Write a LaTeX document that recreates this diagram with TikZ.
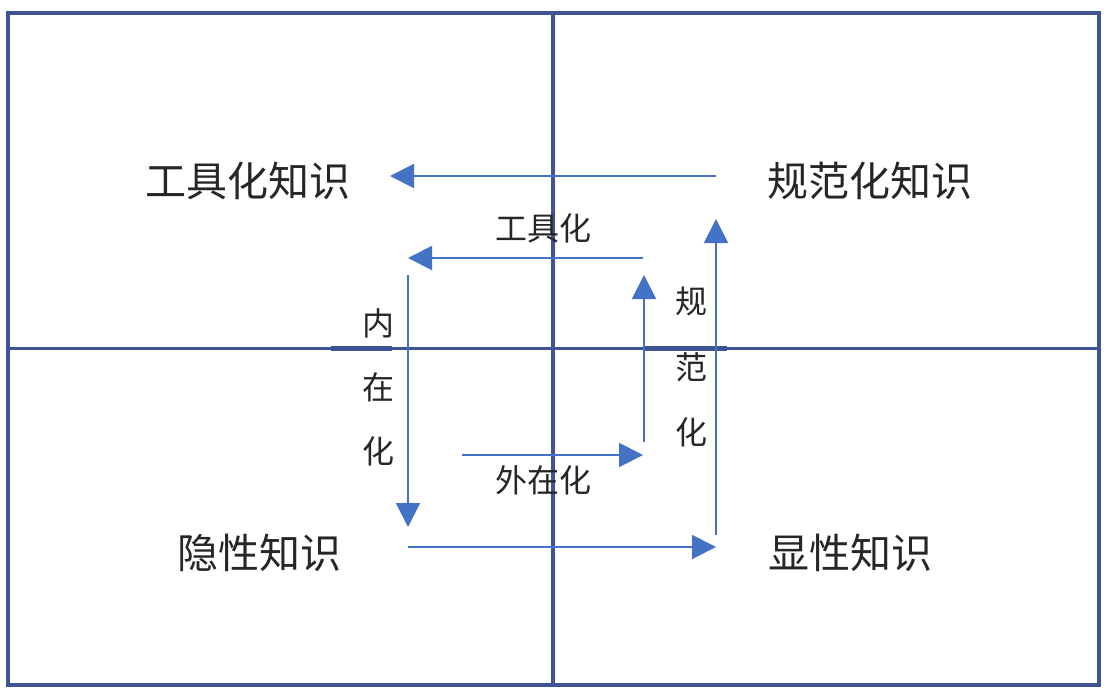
\documentclass[tikz,border=0pt]{standalone}
\usepackage{fontspec}
\setmainfont{Noto Sans CJK SC}
\usetikzlibrary{arrows.meta}
\definecolor{frameblue}{HTML}{3F5494}
\definecolor{arrowblue}{HTML}{4472C4}
\definecolor{txt}{HTML}{262626}
\tikzset{
  frame/.style={draw=frameblue,line width=4pt},
  flow/.style={draw=arrowblue,line width=2pt,-{Triangle[length=24pt,width=24pt]}},
  big/.style={text=txt,font=\fontsize{41}{45}\selectfont,inner sep=0pt},
  small/.style={text=txt,font=\fontsize{32}{36}\selectfont,inner sep=0pt},
}
\begin{document}
\begin{tikzpicture}[x=1pt,y=-1pt]
\useasboundingbox (0,0) rectangle (1114,699);
\fill[white] (0,0) rectangle (1114,699);
% frame
\draw[frame] (8,13) rectangle (1099,685);
\draw[frameblue,line width=3pt] (8,348) -- (1099,348);
\draw[frameblue,line width=5pt] (331,348) -- (392,348);
\draw[frameblue,line width=5pt] (645,348) -- (727,348);
\draw[frame] (553,13) -- (553,685);
% labels
\node[big] (tool) at (248,181) {工具化知识};
\node[big] (norm) at (870,181) {规范化知识};
\node[big] (tacit) at (259,553) {隐性知识};
\node[big] (expl) at (850,553) {显性知识};
\node[small] (ltool) at (543,228) {工具化};
\node[small] (lext) at (543,480) {外在化};
\node[small] (i1) at (378,323) {内};
\node[small] (i2) at (378,387) {在};
\node[small] (i3) at (378,451) {化};
\node[small] (n1) at (691,301) {规};
\node[small] (n2) at (691,367) {范};
\node[small] (n3) at (691,432) {化};
% arrow endpoints
\coordinate (a1s) at (716,176); \coordinate (a1e) at (390,176);
\coordinate (a2s) at (643,258); \coordinate (a2e) at (408,258);
\coordinate (a3s) at (408,275); \coordinate (a3e) at (408,527);
\coordinate (a4s) at (462,455); \coordinate (a4e) at (643,455);
\coordinate (a5s) at (644,442); \coordinate (a5e) at (644,275);
\coordinate (a6s) at (408,547); \coordinate (a6e) at (716,547);
\coordinate (a7s) at (716,535); \coordinate (a7e) at (716,219);
\draw[flow] (a1s) -- (a1e);
\draw[flow] (a2s) -- (a2e);
\draw[flow] (a3s) -- (a3e);
\draw[flow] (a4s) -- (a4e);
\draw[flow] (a5s) -- (a5e);
\draw[flow] (a6s) -- (a6e);
\draw[flow] (a7s) -- (a7e);
\end{tikzpicture}
\end{document}
